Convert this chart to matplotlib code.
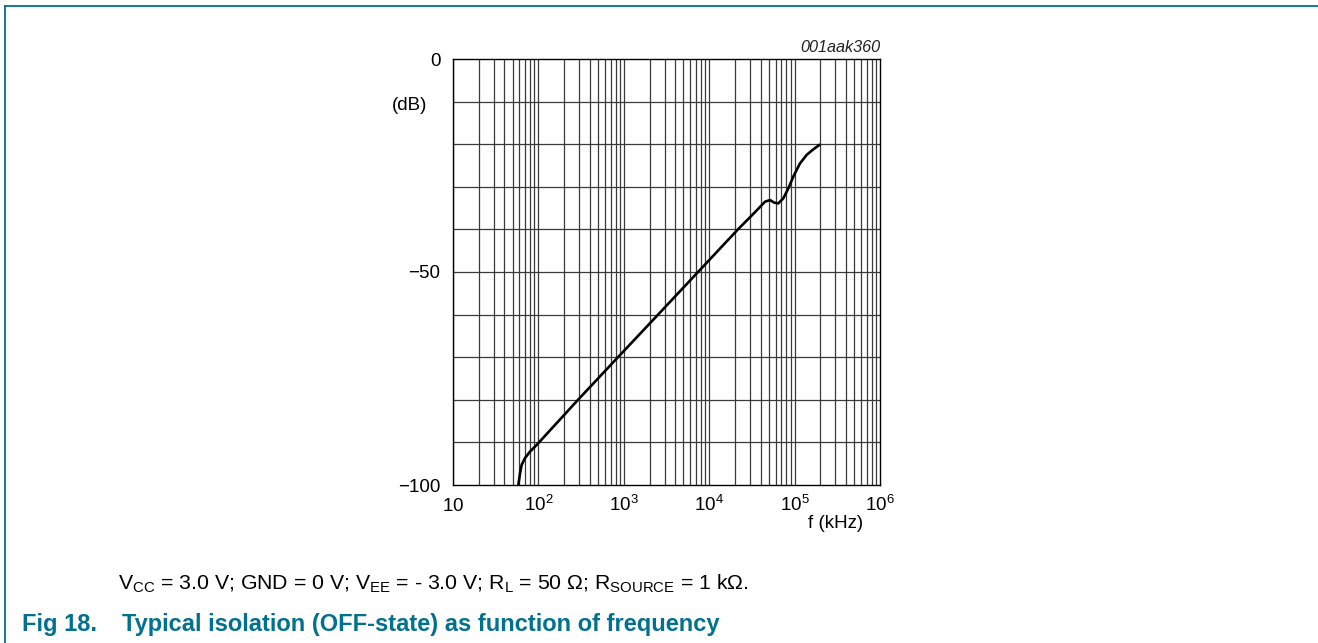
import numpy as np
import matplotlib.pyplot as plt
from matplotlib.lines import Line2D

plt.rcParams['font.family'] = ['Liberation Sans', 'DejaVu Sans']
plt.rcParams['mathtext.fontset'] = 'custom'
plt.rcParams['mathtext.rm'] = 'Liberation Sans'
plt.rcParams['mathtext.it'] = 'Liberation Sans:italic'

# isolation curve
freq_khz = [58.2, 60.9, 63.6, 69.6, 79.4, 95.4, 291, 855, 2520, 7400,
            21700, 35000, 45000, 51500, 57400, 64400, 73800, 84400, 96600,
            115700, 138600, 165600, 194500]
isolation_db = [-100, -97.3, -95.3, -93.7, -92.2, -90.6, -80.0, -70.0,
                -60.0, -50.0, -40.0, -35.8, -33.5, -33.1, -33.7, -33.9,
                -32.7, -30.4, -27.6, -24.5, -22.5, -21.2, -20.2]

x_ticks = [10, 1e2, 1e3, 1e4, 1e5, 1e6]
x_tick_labels = ['$10$', '$10^2$', '$10^3$', '$10^4$', '$10^5$', '$10^6$']
y_ticks = [0, -50, -100]
y_tick_labels = ['0', '\u221250', '\u2212100']

teal = '#00718f'

fig = plt.figure(figsize=(13.18, 6.43), dpi=100)
ax = fig.add_axes([453 / 1318, 158 / 643, 427 / 1318, 426 / 643])

ax.set_xscale('log')
ax.set_xlim(10, 1e6)
ax.set_ylim(-100, 0)

# grid: every decade subdivision and every 10 dB
for dec in range(1, 6):
    for m in range(1, 10):
        ax.axvline(m * 10 ** dec, color='#3a3a3a', lw=0.9, zorder=1)
for y in range(-90, 0, 10):
    ax.axhline(y, color='#3a3a3a', lw=0.9, zorder=1)

ax.plot(freq_khz, isolation_db, color='black', lw=1.9, zorder=3)

ax.set_xticks(x_ticks)
ax.set_xticklabels(x_tick_labels)
ax.set_yticks(y_ticks)
ax.set_yticklabels(y_tick_labels)
ax.minorticks_off()
ax.tick_params(length=0, labelsize=13.5)
ax.tick_params(axis='y', pad=9)
ax.tick_params(axis='x', pad=19)
for lbl in ax.get_xticklabels():
    lbl.set_verticalalignment('baseline')
for s in ax.spines.values():
    s.set_linewidth(1.0)

fig.text(427 / 1318, 1 - 105 / 643, '(dB)', ha='right', va='center', fontsize=13.5)
fig.text(836 / 1318, 1 - 524 / 643, 'f (kHz)', ha='center', va='center', fontsize=13.5)
fig.text(880 / 1318, 1 - 47 / 643, '001aak360', ha='right', va='center',
         fontsize=11.7, style='italic', color='#222222')

fig.text(118 / 1318, 1 - 590 / 643,
         r'V$_{\rm CC}$ = 3.0 V; GND = 0 V; V$_{\rm EE}$ = - 3.0 V; '
         r'R$_{\rm L}$ = 50 $\Omega$; R$_{\rm SOURCE}$ = 1 k$\Omega$.',
         ha='left', va='baseline', fontsize=15.3)
fig.text(22 / 1318, 1 - 631 / 643, 'Fig 18.', ha='left', va='baseline',
         fontsize=17, fontweight='bold', color=teal)
fig.text(122 / 1318, 1 - 631 / 643,
         'Typical isolation (OFF-state) as function of frequency',
         ha='left', va='baseline', fontsize=17, fontweight='bold', color=teal)

# document frame
fig.add_artist(Line2D([5 / 1318, 1], [1 - 6 / 643, 1 - 6 / 643],
                      transform=fig.transFigure, color=teal, lw=1.3))
fig.add_artist(Line2D([5 / 1318, 5 / 1318], [1 - 6 / 643, 0],
                      transform=fig.transFigure, color=teal, lw=1.3))

fig.savefig('out.png', dpi=100)
